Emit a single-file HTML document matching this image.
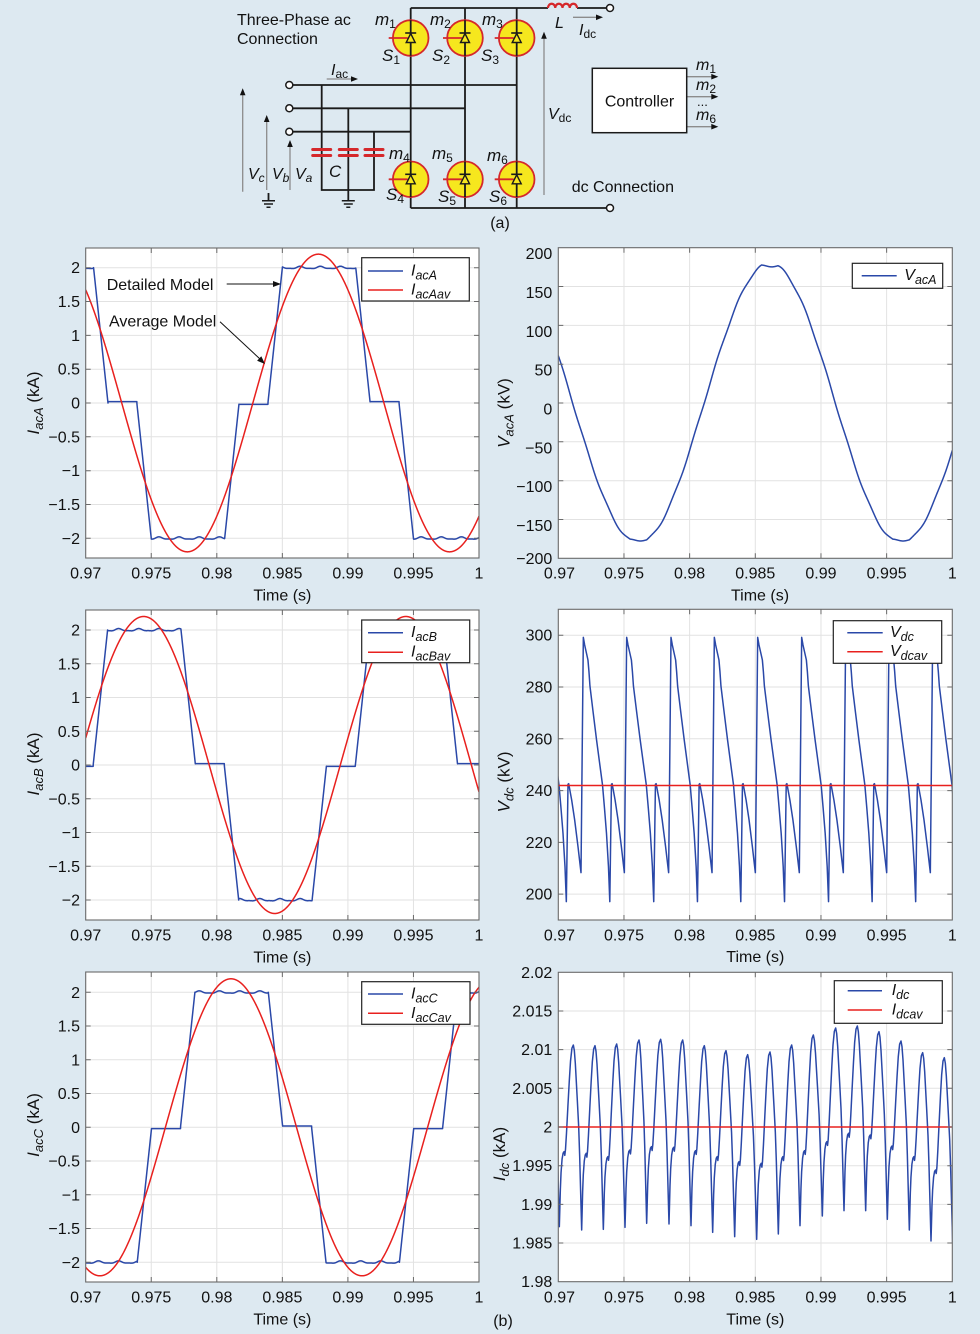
<!DOCTYPE html>
<html><head><meta charset="utf-8">
<style>
html,body{margin:0;padding:0;background:#dde9f1;}
svg{display:block;}
text{font-family:"Liberation Sans",Arial,sans-serif;fill:#111;}
</style></head>
<body>
<svg xmlns="http://www.w3.org/2000/svg" width="980" height="1334" viewBox="0 0 980 1334">
<rect width="980" height="1334" fill="#dde9f1"/>
<defs>
<clipPath id="c1"><rect x="85.7" y="248" width="393.3" height="310"/></clipPath>
<clipPath id="c2"><rect x="558.3" y="247.7" width="394" height="310.6"/></clipPath>
<clipPath id="c3"><rect x="85.7" y="610" width="393.3" height="310"/></clipPath>
<clipPath id="c4"><rect x="558.3" y="609.3" width="394" height="310.7"/></clipPath>
<clipPath id="c5"><rect x="85.7" y="972" width="393.3" height="310"/></clipPath>
<clipPath id="c6"><rect x="558.3" y="972.3" width="394" height="309.4"/></clipPath>
</defs>

<!-- ============ (a) circuit diagram ============ -->
<g stroke="#1a1a1a" stroke-width="1.8" fill="none">
<path d="M410.7,8H548 M577,8H606.5 M410.7,8V208 M465,8V208 M516.7,8V208 M410.7,208H606.5 M292.8,85H516.7 M292.8,108.3H465 M292.8,131.7H410.7 M321.7,85V190 M348.3,108.3V190 M374,131.7V190 M320.8,190H374.9 M348.3,190V200 M268.5,193V200"/>
<path stroke-width="1.5" d="M341.8,200.7H354.8 M343.8,204H352.8 M346.3,207.3H350.3 M262,200.7H275 M264,204H273 M266.5,207.3H270.5"/>
</g>
<path d="M548,8 a3.6,4.2 0 0 1 7.25,0 a3.6,4.2 0 0 1 7.25,0 a3.6,4.2 0 0 1 7.25,0 a3.6,4.2 0 0 1 7.25,0" fill="none" stroke="#d5282b" stroke-width="2.2"/>
<g fill="#fff" stroke="#1a1a1a" stroke-width="1.5">
<circle cx="289.3" cy="85" r="3.5"/><circle cx="289.3" cy="108.3" r="3.5"/><circle cx="289.3" cy="131.7" r="3.5"/>
<circle cx="610" cy="8" r="3.5"/><circle cx="610" cy="208" r="3.5"/>
</g>
<!-- capacitors -->
<g stroke="#d5282b" stroke-width="3" stroke-linecap="round">
<path d="M312.7,149.5H330.7 M312.7,155.5H330.7 M339.3,149.5H357.3 M339.3,155.5H357.3 M365,149.5H383 M365,155.5H383"/>
</g>
<!-- thyristors -->
<g id="thy">
<g transform="translate(410.7,38)"><circle r="17.8" fill="#f6e71e" stroke="#d5282b" stroke-width="1.8"/><path d="M0,-17.8V17.8" stroke="#1a1a1a" stroke-width="1.8"/><path d="M-22,0H-3" stroke="#d5282b" stroke-width="1.8"/><path d="M-4.5,4.5L4.5,4.5L0,-4.5Z" fill="#f6e71e" stroke="#1a1a1a" stroke-width="1.4"/><path d="M-5.5,-5H5.5" stroke="#1a1a1a" stroke-width="1.6"/></g>
<g transform="translate(465,38)"><circle r="17.8" fill="#f6e71e" stroke="#d5282b" stroke-width="1.8"/><path d="M0,-17.8V17.8" stroke="#1a1a1a" stroke-width="1.8"/><path d="M-22,0H-3" stroke="#d5282b" stroke-width="1.8"/><path d="M-4.5,4.5L4.5,4.5L0,-4.5Z" fill="#f6e71e" stroke="#1a1a1a" stroke-width="1.4"/><path d="M-5.5,-5H5.5" stroke="#1a1a1a" stroke-width="1.6"/></g>
<g transform="translate(516.7,38)"><circle r="17.8" fill="#f6e71e" stroke="#d5282b" stroke-width="1.8"/><path d="M0,-17.8V17.8" stroke="#1a1a1a" stroke-width="1.8"/><path d="M-22,0H-3" stroke="#d5282b" stroke-width="1.8"/><path d="M-4.5,4.5L4.5,4.5L0,-4.5Z" fill="#f6e71e" stroke="#1a1a1a" stroke-width="1.4"/><path d="M-5.5,-5H5.5" stroke="#1a1a1a" stroke-width="1.6"/></g>
<g transform="translate(410.7,179.3)"><circle r="17.8" fill="#f6e71e" stroke="#d5282b" stroke-width="1.8"/><path d="M0,-17.8V17.8" stroke="#1a1a1a" stroke-width="1.8"/><path d="M-22,0H-3" stroke="#d5282b" stroke-width="1.8"/><path d="M-4.5,4.5L4.5,4.5L0,-4.5Z" fill="#f6e71e" stroke="#1a1a1a" stroke-width="1.4"/><path d="M-5.5,-5H5.5" stroke="#1a1a1a" stroke-width="1.6"/></g>
<g transform="translate(465,179.3)"><circle r="17.8" fill="#f6e71e" stroke="#d5282b" stroke-width="1.8"/><path d="M0,-17.8V17.8" stroke="#1a1a1a" stroke-width="1.8"/><path d="M-22,0H-3" stroke="#d5282b" stroke-width="1.8"/><path d="M-4.5,4.5L4.5,4.5L0,-4.5Z" fill="#f6e71e" stroke="#1a1a1a" stroke-width="1.4"/><path d="M-5.5,-5H5.5" stroke="#1a1a1a" stroke-width="1.6"/></g>
<g transform="translate(516.7,179.3)"><circle r="17.8" fill="#f6e71e" stroke="#d5282b" stroke-width="1.8"/><path d="M0,-17.8V17.8" stroke="#1a1a1a" stroke-width="1.8"/><path d="M-22,0H-3" stroke="#d5282b" stroke-width="1.8"/><path d="M-4.5,4.5L4.5,4.5L0,-4.5Z" fill="#f6e71e" stroke="#1a1a1a" stroke-width="1.4"/><path d="M-5.5,-5H5.5" stroke="#1a1a1a" stroke-width="1.6"/></g>
</g>
<!-- gray arrows -->
<g stroke="#8c8c8c" stroke-width="1.3" fill="none">
<path d="M326.7,79H352 M573,17.3H597 M544,195V38 M242.7,191.7V95 M266.7,190V121 M290,190V146 M686.7,76.7H712 M686.7,96.7H712 M686.7,126.7H712"/>
</g>
<g fill="#111">
<polygon points="358,79 351,76.2 351,81.8"/>
<polygon points="603,17.3 596,14.5 596,20.1"/>
<polygon points="544,31.7 541.2,38.7 546.8,38.7"/>
<polygon points="242.7,88.3 239.9,95.3 245.5,95.3"/>
<polygon points="266.7,115 263.9,122 269.5,122"/>
<polygon points="290,140 287.2,147 292.8,147"/>
<polygon points="718.3,76.7 711.3,73.9 711.3,79.5"/>
<polygon points="718.3,96.7 711.3,93.9 711.3,99.5"/>
<polygon points="718.3,126.7 711.3,123.9 711.3,129.5"/>
</g>
<rect x="592.3" y="68.3" width="94.4" height="64.4" fill="#fff" stroke="#1a1a1a" stroke-width="1.5"/>
<g font-size="16">
<text x="237" y="25">Three-Phase ac</text>
<text x="237" y="44">Connection</text>
<text x="639.5" y="106.5" text-anchor="middle">Controller</text>
<text x="571.7" y="192">dc Connection</text>
<text x="500" y="228" text-anchor="middle">(a)</text>
<text x="331" y="75"><tspan font-style="italic">I</tspan><tspan font-size="12" dy="3">ac</tspan></text>
<text x="579" y="35"><tspan font-style="italic">I</tspan><tspan font-size="12" dy="3">dc</tspan></text>
<text x="548" y="119"><tspan font-style="italic">V</tspan><tspan font-size="12" dy="3">dc</tspan></text>
<text x="555" y="28" font-style="italic">L</text>
<text x="329" y="177" font-style="italic" font-size="17">C</text>
<text x="248" y="179" font-style="italic">V<tspan font-size="12" dy="3">c</tspan></text>
<text x="272" y="179" font-style="italic">V<tspan font-size="12" dy="3">b</tspan></text>
<text x="295" y="179" font-style="italic">V<tspan font-size="12" dy="3">a</tspan></text>
<text x="375" y="25" font-style="italic" font-size="17">m<tspan font-size="12" font-style="normal" dy="3">1</tspan></text>
<text x="430" y="25" font-style="italic" font-size="17">m<tspan font-size="12" font-style="normal" dy="3">2</tspan></text>
<text x="482" y="25" font-style="italic" font-size="17">m<tspan font-size="12" font-style="normal" dy="3">3</tspan></text>
<text x="382" y="61" font-style="italic" font-size="17">S<tspan font-size="12" font-style="normal" dy="3">1</tspan></text>
<text x="432" y="61" font-style="italic" font-size="17">S<tspan font-size="12" font-style="normal" dy="3">2</tspan></text>
<text x="481" y="61" font-style="italic" font-size="17">S<tspan font-size="12" font-style="normal" dy="3">3</tspan></text>
<text x="389" y="159" font-style="italic" font-size="17">m<tspan font-size="12" font-style="normal" dy="3">4</tspan></text>
<text x="432" y="159" font-style="italic" font-size="17">m<tspan font-size="12" font-style="normal" dy="3">5</tspan></text>
<text x="487" y="161" font-style="italic" font-size="17">m<tspan font-size="12" font-style="normal" dy="3">6</tspan></text>
<text x="386" y="200" font-style="italic" font-size="17">S<tspan font-size="12" font-style="normal" dy="3">4</tspan></text>
<text x="438" y="202" font-style="italic" font-size="17">S<tspan font-size="12" font-style="normal" dy="3">5</tspan></text>
<text x="489" y="202" font-style="italic" font-size="17">S<tspan font-size="12" font-style="normal" dy="3">6</tspan></text>
<text x="696" y="70" font-style="italic">m<tspan font-size="12" font-style="normal" dy="3">1</tspan></text>
<text x="696" y="90" font-style="italic">m<tspan font-size="12" font-style="normal" dy="3">2</tspan></text>
<text x="697" y="106" font-size="13">...</text>
<text x="696" y="120" font-style="italic">m<tspan font-size="12" font-style="normal" dy="3">6</tspan></text>
</g>

<!-- ============ PLOT 1 : IacA ============ -->
<rect x="85.7" y="248" width="393.3" height="310" fill="#fff"/>
<g id="p1g"></g>
<g id="p1c" clip-path="url(#c1)"></g>
<rect x="85.7" y="248" width="393.3" height="310" fill="none" stroke="#6a6a6a" stroke-width="1.1"/>
<g id="p1t"></g>
<g font-size="16">
<text x="106.7" y="290">Detailed Model</text>
<text x="109" y="326.7">Average Model</text>
</g>
<path d="M226.7,284H274 M220,321.7L260,359" stroke="#111" stroke-width="1" fill="none"/>
<polygon points="281,284 273,281 273,287" fill="#111"/>
<polygon points="265,364 257.1,360.7 261.3,356.3" fill="#111"/>
<rect x="361.7" y="257.7" width="107.6" height="43.3" fill="#fff" stroke="#222" stroke-width="1.2"/>
<path d="M368,271H403" stroke="#2a48a8" stroke-width="1.5"/>
<path d="M368,290H403" stroke="#e8201e" stroke-width="1.5"/>
<text x="411" y="275.5" font-size="16" font-style="italic">I<tspan font-size="12.5" dy="4">acA</tspan></text>
<text x="411" y="294.5" font-size="16" font-style="italic">I<tspan font-size="12.5" dy="4">acAav</tspan></text>
<g font-size="16" text-anchor="end">
<text x="80" y="273.2">2</text><text x="80" y="307">1.5</text><text x="80" y="340.9">1</text><text x="80" y="374.7">0.5</text><text x="80" y="408.5">0</text><text x="80" y="442.3">−0.5</text><text x="80" y="476.2">−1</text><text x="80" y="510">−1.5</text><text x="80" y="543.8">−2</text>
</g>
<g font-size="16" text-anchor="middle">
<text x="85.7" y="578.5">0.97</text><text x="151.25" y="578.5">0.975</text><text x="216.8" y="578.5">0.98</text><text x="282.35" y="578.5">0.985</text><text x="347.9" y="578.5">0.99</text><text x="413.45" y="578.5">0.995</text><text x="479" y="578.5">1</text>
<text x="282.35" y="600.5">Time (s)</text>
</g>
<text transform="translate(39,403) rotate(-90)" text-anchor="middle" font-size="17"><tspan font-style="italic">I</tspan><tspan font-style="italic" font-size="13" dy="4">acA</tspan><tspan dy="-4"> (kA)</tspan></text>

<!-- ============ PLOT 2 : VacA ============ -->
<rect x="558.3" y="247.7" width="394" height="310.6" fill="#fff"/>
<g id="p2g"></g>
<g id="p2c" clip-path="url(#c2)"></g>
<rect x="558.3" y="247.7" width="394" height="310.6" fill="none" stroke="#6a6a6a" stroke-width="1.1"/>
<g id="p2t"></g>
<rect x="852.3" y="263.3" width="90.4" height="25" fill="#fff" stroke="#222" stroke-width="1.2"/>
<path d="M861.7,275.7H896.7" stroke="#2a48a8" stroke-width="1.5"/>
<text x="904.3" y="280" font-size="16" font-style="italic">V<tspan font-size="12.5" dy="4">acA</tspan></text>
<g font-size="16" text-anchor="end">
<text x="552.3" y="259.2">200</text><text x="552.3" y="298">150</text><text x="552.3" y="336.9">100</text><text x="552.3" y="375.7">50</text><text x="552.3" y="414.5">0</text><text x="552.3" y="453.3">−50</text><text x="552.3" y="492.2">−100</text><text x="552.3" y="531">−150</text><text x="552.3" y="563.8">−200</text>
</g>
<g font-size="16" text-anchor="middle">
<text x="559.5" y="578.5">0.97</text><text x="623.97" y="578.5">0.975</text><text x="689.63" y="578.5">0.98</text><text x="755.3" y="578.5">0.985</text><text x="820.97" y="578.5">0.99</text><text x="886.63" y="578.5">0.995</text><text x="952.3" y="578.5">1</text>
<text x="760" y="600.5">Time (s)</text>
</g>
<text transform="translate(509.5,413) rotate(-90)" text-anchor="middle" font-size="17"><tspan font-style="italic">V</tspan><tspan font-style="italic" font-size="13" dy="4">acA</tspan><tspan dy="-4"> (kV)</tspan></text>

<!-- ============ PLOT 3 : IacB ============ -->
<rect x="85.7" y="610" width="393.3" height="310" fill="#fff"/>
<g id="p3g"></g>
<g id="p3c" clip-path="url(#c3)"></g>
<rect x="85.7" y="610" width="393.3" height="310" fill="none" stroke="#6a6a6a" stroke-width="1.1"/>
<g id="p3t"></g>
<rect x="361.7" y="620" width="108" height="42.7" fill="#fff" stroke="#222" stroke-width="1.2"/>
<path d="M368,632.7H403" stroke="#2a48a8" stroke-width="1.5"/>
<path d="M368,652.3H403" stroke="#e8201e" stroke-width="1.5"/>
<text x="411" y="637" font-size="16" font-style="italic">I<tspan font-size="12.5" dy="4">acB</tspan></text>
<text x="411" y="656.5" font-size="16" font-style="italic">I<tspan font-size="12.5" dy="4">acBav</tspan></text>
<g font-size="16" text-anchor="end">
<text x="80" y="635.5">2</text><text x="80" y="669.25">1.5</text><text x="80" y="703">1</text><text x="80" y="736.75">0.5</text><text x="80" y="770.5">0</text><text x="80" y="804.25">−0.5</text><text x="80" y="838">−1</text><text x="80" y="871.75">−1.5</text><text x="80" y="905.5">−2</text>
</g>
<g font-size="16" text-anchor="middle">
<text x="85.7" y="940.5">0.97</text><text x="151.25" y="940.5">0.975</text><text x="216.8" y="940.5">0.98</text><text x="282.35" y="940.5">0.985</text><text x="347.9" y="940.5">0.99</text><text x="413.45" y="940.5">0.995</text><text x="479" y="940.5">1</text>
<text x="282.35" y="962.5">Time (s)</text>
</g>
<text transform="translate(39,764) rotate(-90)" text-anchor="middle" font-size="17"><tspan font-style="italic">I</tspan><tspan font-style="italic" font-size="13" dy="4">acB</tspan><tspan dy="-4"> (kA)</tspan></text>

<!-- ============ PLOT 4 : Vdc ============ -->
<rect x="558.3" y="609.3" width="394" height="310.7" fill="#fff"/>
<g id="p4g"></g>
<g id="p4c" clip-path="url(#c4)"></g>
<rect x="558.3" y="609.3" width="394" height="310.7" fill="none" stroke="#6a6a6a" stroke-width="1.1"/>
<g id="p4t"></g>
<rect x="833.3" y="620.7" width="108.4" height="42.6" fill="#fff" stroke="#222" stroke-width="1.2"/>
<path d="M847.3,632.7H882.7" stroke="#2a48a8" stroke-width="1.5"/>
<path d="M847.3,651.7H882.7" stroke="#e8201e" stroke-width="1.5"/>
<text x="890" y="637" font-size="16" font-style="italic">V<tspan font-size="12.5" dy="4">dc</tspan></text>
<text x="890" y="656" font-size="16" font-style="italic">V<tspan font-size="12.5" dy="4">dcav</tspan></text>
<g font-size="16" text-anchor="end">
<text x="552.3" y="640.7">300</text><text x="552.3" y="692.5">280</text><text x="552.3" y="744.3">260</text><text x="552.3" y="796.1">240</text><text x="552.3" y="847.9">220</text><text x="552.3" y="899.6">200</text>
</g>
<g font-size="16" text-anchor="middle">
<text x="559.5" y="940.5">0.97</text><text x="623.97" y="940.5">0.975</text><text x="689.63" y="940.5">0.98</text><text x="755.3" y="940.5">0.985</text><text x="820.97" y="940.5">0.99</text><text x="886.63" y="940.5">0.995</text><text x="952.3" y="940.5">1</text>
<text x="755.3" y="962">Time (s)</text>
</g>
<text transform="translate(509.5,782) rotate(-90)" text-anchor="middle" font-size="17"><tspan font-style="italic">V</tspan><tspan font-style="italic" font-size="13" dy="4">dc</tspan><tspan dy="-4"> (kV)</tspan></text>

<!-- ============ PLOT 5 : IacC ============ -->
<rect x="85.7" y="972" width="393.3" height="310" fill="#fff"/>
<g id="p5g"></g>
<g id="p5c" clip-path="url(#c5)"></g>
<rect x="85.7" y="972" width="393.3" height="310" fill="none" stroke="#6a6a6a" stroke-width="1.1"/>
<g id="p5t"></g>
<rect x="361.7" y="981.7" width="108.3" height="42.6" fill="#fff" stroke="#222" stroke-width="1.2"/>
<path d="M368,994H403" stroke="#2a48a8" stroke-width="1.5"/>
<path d="M368,1013.3H403" stroke="#e8201e" stroke-width="1.5"/>
<text x="411" y="998.5" font-size="16" font-style="italic">I<tspan font-size="12.5" dy="4">acC</tspan></text>
<text x="411" y="1017.8" font-size="16" font-style="italic">I<tspan font-size="12.5" dy="4">acCav</tspan></text>
<g font-size="16" text-anchor="end">
<text x="80" y="997.8">2</text><text x="80" y="1031.55">1.5</text><text x="80" y="1065.3">1</text><text x="80" y="1099.05">0.5</text><text x="80" y="1132.8">0</text><text x="80" y="1166.55">−0.5</text><text x="80" y="1200.3">−1</text><text x="80" y="1234.05">−1.5</text><text x="80" y="1267.8">−2</text>
</g>
<g font-size="16" text-anchor="middle">
<text x="85.7" y="1302.5">0.97</text><text x="151.25" y="1302.5">0.975</text><text x="216.8" y="1302.5">0.98</text><text x="282.35" y="1302.5">0.985</text><text x="347.9" y="1302.5">0.99</text><text x="413.45" y="1302.5">0.995</text><text x="479" y="1302.5">1</text>
<text x="282.35" y="1324.5">Time (s)</text>
</g>
<text transform="translate(39,1125) rotate(-90)" text-anchor="middle" font-size="17"><tspan font-style="italic">I</tspan><tspan font-style="italic" font-size="13" dy="4">acC</tspan><tspan dy="-4"> (kA)</tspan></text>

<!-- ============ PLOT 6 : Idc ============ -->
<rect x="558.3" y="972.3" width="394" height="309.4" fill="#fff"/>
<g id="p6g"></g>
<g id="p6c" clip-path="url(#c6)"></g>
<rect x="558.3" y="972.3" width="394" height="309.4" fill="none" stroke="#6a6a6a" stroke-width="1.1"/>
<g id="p6t"></g>
<rect x="834.3" y="980.7" width="108" height="42.6" fill="#fff" stroke="#222" stroke-width="1.2"/>
<path d="M847.7,990.7H882" stroke="#2a48a8" stroke-width="1.5"/>
<path d="M847.7,1010H882" stroke="#e8201e" stroke-width="1.5"/>
<text x="891.7" y="995" font-size="16" font-style="italic">I<tspan font-size="12.5" dy="4">dc</tspan></text>
<text x="891.7" y="1014.5" font-size="16" font-style="italic">I<tspan font-size="12.5" dy="4">dcav</tspan></text>
<g font-size="16" text-anchor="end">
<text x="552.3" y="977.8">2.02</text><text x="552.3" y="1016.5">2.015</text><text x="552.3" y="1055.15">2.01</text><text x="552.3" y="1093.8">2.005</text><text x="552.3" y="1132.5">2</text><text x="552.3" y="1171.2">1.995</text><text x="552.3" y="1209.9">1.99</text><text x="552.3" y="1248.5">1.985</text><text x="552.3" y="1287.2">1.98</text>
</g>
<g font-size="16" text-anchor="middle">
<text x="559.5" y="1302.5">0.97</text><text x="623.97" y="1302.5">0.975</text><text x="689.63" y="1302.5">0.98</text><text x="755.3" y="1302.5">0.985</text><text x="820.97" y="1302.5">0.99</text><text x="886.63" y="1302.5">0.995</text><text x="952.3" y="1302.5">1</text>
<text x="755.3" y="1324.5">Time (s)</text>
</g>
<text transform="translate(505,1154) rotate(-90)" text-anchor="middle" font-size="17"><tspan font-style="italic">I</tspan><tspan font-style="italic" font-size="13" dy="4">dc</tspan><tspan dy="-4"> (kA)</tspan></text>
<text x="503" y="1326" font-size="16" text-anchor="middle">(b)</text>
</svg>

<script>
(function(){
var NS='http://www.w3.org/2000/svg';
function el(p,tag,a){var e=document.createElementNS(NS,tag);for(var k in a)e.setAttribute(k,a[k]);p.appendChild(e);return e;}
function $(id){return document.getElementById(id);}
var BLUE='#2a48a8',RED='#e8201e';
var plots=[
 {id:'p1',x0:85.7,x1:479,y0:248,y1:558,yt:[267.7,301.5,335.4,369.2,403,436.8,470.7,504.5,538.3]},
 {id:'p2',x0:558.3,x1:952.3,y0:247.7,y1:558.3,yt:[286.5,325.4,364.2,403,441.8,480.7,519.5]},
 {id:'p3',x0:85.7,x1:479,y0:610,y1:920,yt:[630,663.75,697.5,731.25,765,798.75,832.5,866.25,900]},
 {id:'p4',x0:558.3,x1:952.3,y0:609.3,y1:920,yt:[635.2,687,738.8,790.6,842.4,894.1]},
 {id:'p5',x0:85.7,x1:479,y0:972,y1:1282,yt:[992.3,1026.05,1059.8,1093.55,1127.3,1161.05,1194.8,1228.55,1262.3]},
 {id:'p6',x0:558.3,x1:952.3,y0:972.3,y1:1281.7,yt:[1011,1049.65,1088.3,1127,1165.7,1204.4,1243]}
];
plots.forEach(function(p){
 var d='',t='';
 for(var k=1;k<6;k++){var x=(p.x0+k*(p.x1-p.x0)/6).toFixed(2);d+='M'+x+','+p.y0+'V'+p.y1;t+='M'+x+','+p.y1+'v-5M'+x+','+p.y0+'v5';}
 p.yt.forEach(function(y){d+='M'+p.x0+','+y+'H'+p.x1;t+='M'+p.x0+','+y+'h5M'+p.x1+','+y+'h-5';});
 el($(p.id+'g'),'path',{d:d,stroke:'#e2e2e2','stroke-width':1,fill:'none'});
 el($(p.id+'t'),'path',{d:t,stroke:'#6a6a6a','stroke-width':1,fill:'none'});
});
var TW=2*Math.PI;
function six(t,c){var d=t-c;d=((d%0.02)+0.02)%0.02;if(d>=0.01)d-=0.02;var a=Math.abs(d)*1000;
 var w=0.016*Math.sin(TW*650*t+0.7)+0.006*Math.sin(TW*1300*t);
 if(a<=2.8)return 2+w; if(a<3.9)return 2*(3.9-a)/1.1; if(a<6.1)return d>0?0.02:-0.02; if(a<7.2)return -2*(a-6.1)/1.1; return -2+w;}
function fpath(f,X,Y){var s='';for(var i=0;i<=3000;i++){var t=0.97+i*0.00001;s+=(i?'L':'M')+X(t).toFixed(2)+','+Y(f(t)).toFixed(2);}return s;}
function LX(t){return 85.7+(t-0.97)/0.03*393.3;}
function RX(t){return 558.3+(t-0.97)/0.03*394;}
function line(g,d,c){el(g,'path',{d:d,fill:'none',stroke:c,'stroke-width':1.5,'stroke-linejoin':'round'});}
// AC currents
[['p1c',0.9878,0.98775,403,67.65],['p3c',0.97447,0.97442,765,67.5],['p5c',0.98113,0.98108,1127.3,67.5]].forEach(function(q){
 var g=$(q[0]),Y=function(v){return q[3]-v*q[4];};
 line(g,fpath(function(t){return six(t,q[1]);},LX,Y),BLUE);
 line(g,fpath(function(t){return 2.2*Math.cos(TW*50*(t-q[2]));},LX,Y),RED);
});
// VacA
line($('p2c'),fpath(function(t){var v=180*Math.cos(TW*50*(t-0.9861));v=Math.max(-176.5,Math.min(176.5,v));return v+1.2*Math.sin(TW*600*t);},RX,function(v){return 247.7+(200-v)/400*310.6;}),BLUE);
// Vdc (zoom coordinates)
var vt=[[0,112],[4,135],[14,180],[17,215],[20,258],[30,340],[40,420],[50,495],[58,555],[64,625],[70,700],[76,800],[80,905],[85,553],[87,551],[96,600],[105,660],[115,740],[124,818]];
var pk=[149,280,410,543,673,803,935,1067,1197,1328,1459],pts=[];
for(var k=0;k<pk.length-1;k++){var sp=(pk[k+1]-pk[k])/131;vt.forEach(function(o){pts.push([pk[k]+o[0]*sp,o[1]]);});}
pts.push([pk[pk.length-1],112]);
line($('p4c'),pts.map(function(p,i){return (i?'L':'M')+(490+p[0]/3).toFixed(2)+','+(600+p[1]/3).toFixed(2);}).join(''),BLUE);
line($('p4c'),'M558.3,785.5H952.3',RED);
// Idc (zoom coordinates)
var tr=[[142,805],[208,800],[275,810],[340,808],[405,802],[470,790],[537,792],[603,797],[668,817],[734,830],[800,838],[865,822],[930,797],[997,768],[1062,752],[1127,752],[1192,778],[1258,810],[1323,843],[1388,850]];
var pkI=[[183,250],[250,255],[315,257],[380,252],[447,240],[512,238],[578,240],[643,257],[708,272],[773,284],[840,276],[905,255],[970,225],[1037,204],[1102,198],[1167,215],[1233,243],[1298,278],[1363,293]];
var sh=[575,575,580,590,570,560,562,572,590,605,610,590,572,545,520,525,558,590,630];
var ip=[];
for(var k2=0;k2<pkI.length;k2++){
 var xt=tr[k2][0],T=tr[k2][1],xp=pkI[k2][0],P=pkI[k2][1],S=sh[k2],xn=tr[k2+1][0],N=tr[k2+1][1],D=xp-xt,E=xn-xp;
 var rise=[[0,T],[.037,T+.25*(S-T)],[.073,T+.5*(S-T)],[.122,T+.72*(S-T)],[.195,T+.9*(S-T)],[.27,T+.98*(S-T)],[.34,S],[.39,S-.05*(S-T)],[.44,S+.02*(P-S)],[.51,S+.17*(P-S)],[.61,S+.42*(P-S)],[.71,S+.66*(P-S)],[.8,S+.85*(P-S)],[.9,S+.97*(P-S)]];
 rise.forEach(function(r){ip.push([xt+r[0]*D,r[1]]);});
 [[0,0],[.12,.03],[.24,.1],[.36,.2],[.48,.3],[.64,.44],[.76,.6],[.88,.8]].forEach(function(r){ip.push([xp+r[0]*E,P+r[1]*(N-P)]);});
}
ip.push(tr[tr.length-1]);
line($('p6c'),ip.map(function(p,i){return (i?'L':'M')+(490+p[0]/3).toFixed(2)+','+(960+p[1]/3).toFixed(2);}).join(''),BLUE);
line($('p6c'),'M558.3,1127H952.3',RED);
})();
</script>
</body></html>
